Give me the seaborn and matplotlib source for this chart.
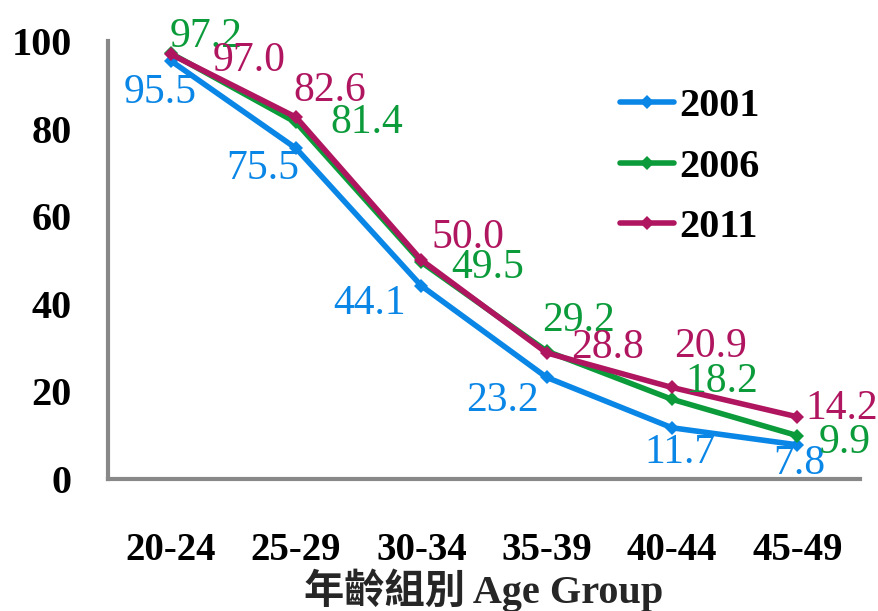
import pandas as pd
import seaborn as sns
import matplotlib.pyplot as plt

# data
age_groups = ["20-24", "25-29", "30-34", "35-39", "40-44", "45-49"]
years = ["2001", "2006", "2011"]
rate_2001 = [95.5, 75.5, 44.1, 23.2, 11.7, 7.8]
rate_2006 = [97.2, 81.4, 49.5, 29.2, 18.2, 9.9]
rate_2011 = [97.0, 82.6, 50.0, 28.8, 20.9, 14.2]

colors = {"2001": "#0A86E6", "2006": "#0B9B3A", "2011": "#B0155F"}
gray = "#888888"

# label offsets (pixels) for each value label, hand placed
label_offsets = {
    "2001": [(-11, -32), (-33, -20), (-52, -18), (-44, -23), (8, -25), (2, -19)],
    "2006": [(35, 17), (71, 0), (66, -6), (32, 30), (50, 18), (47, -7)],
    "2011": [(78, -7), (34, 26), (47, 22), (61, 5), (39, 41), (44, 8)],
}

df = pd.DataFrame({
    "age": age_groups * 3,
    "year": [y for y in years for _ in age_groups],
    "rate": rate_2001 + rate_2006 + rate_2011,
})

sns.set_style("white")
plt.rcParams["font.family"] = ["Liberation Serif", "Noto Sans CJK TC"]
plt.rcParams["text.color"] = "black"
plt.rcParams["xtick.labelcolor"] = "black"
plt.rcParams["ytick.labelcolor"] = "black"

fig = plt.figure(figsize=(8.79, 6.11), dpi=100)
ax = fig.add_axes([0.1229, 0.2160, 0.8555, 0.7169])

sns.lineplot(data=df, x="age", y="rate", hue="year", palette=colors,
             marker="D", markersize=7, markeredgewidth=0, linewidth=4,
             sort=False, ax=ax)

# value labels
for yr in years:
    sub = df[df["year"] == yr].reset_index(drop=True)
    for i, row in sub.iterrows():
        dx, dy = label_offsets[yr][i]
        ax.annotate(f"{row['rate']:.1f}", (i, row["rate"]),
                    xytext=(dx, dy), textcoords="offset pixels",
                    ha="center", va="center", fontsize=30,
                    color=colors[yr], annotation_clip=False)

ax.set_xlim(-0.5, 5.5)
ax.set_ylim(0, 100)
ax.set_yticks([0, 20, 40, 60, 80, 100])
ax.set_xticks(range(6))
ax.set_xticklabels(age_groups, fontsize=28, fontweight="bold")
ax.set_yticklabels([0, 20, 40, 60, 80, 100], fontsize=29, fontweight="bold")
ax.set_xticks([0.5, 1.5, 2.5, 3.5, 4.5, 5.5], minor=True)
ax.tick_params(axis="x", which="major", length=0, pad=38)
ax.tick_params(axis="x", which="minor", direction="in", length=10, width=3, color=gray)
ax.tick_params(axis="y", direction="in", length=13, width=3, color=gray, pad=26)

ax.set_xlabel("年齡組別 Age Group", fontsize=29, fontweight="bold", labelpad=0)
ax.set_ylabel("")

for s in ["top", "right"]:
    ax.spines[s].set_visible(False)
for s in ["left", "bottom"]:
    ax.spines[s].set_color(gray)
    ax.spines[s].set_linewidth(3)

handles, labels = ax.get_legend_handles_labels()
ax.legend(handles, labels, loc="upper left", bbox_to_anchor=(0.664, 0.915),
          bbox_transform=fig.transFigure, frameon=False,
          prop={"size": 29, "weight": "bold"}, handlelength=1.35,
          handletextpad=0.12, labelspacing=0.58)

fig.savefig("out.png", dpi=100)
